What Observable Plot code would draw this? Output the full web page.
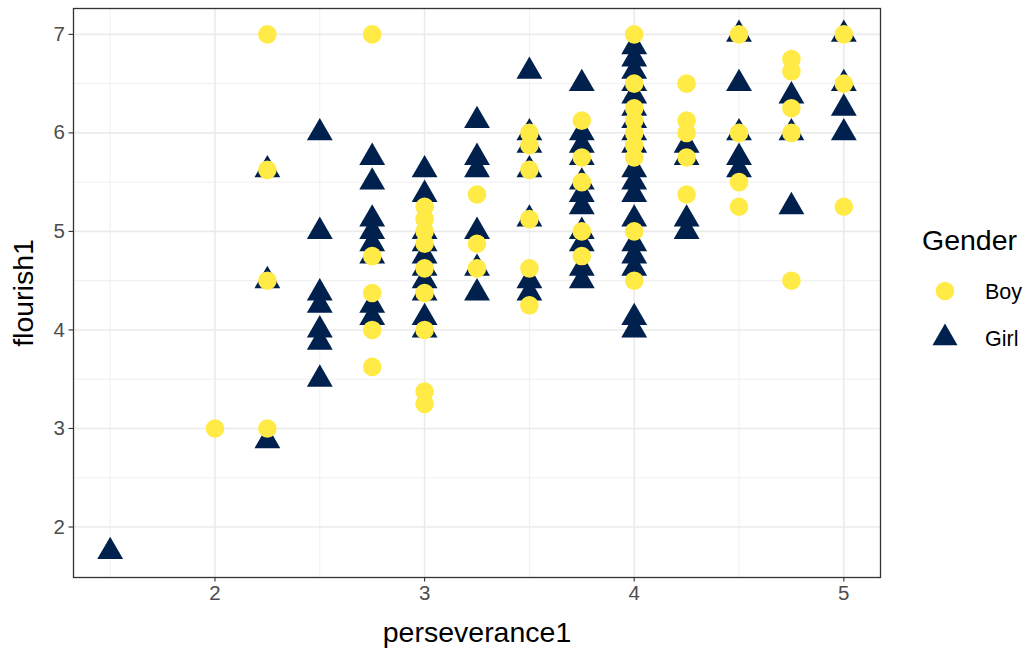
<!DOCTYPE html>
<html>
<head>
<meta charset="utf-8">
<script src="https://cdn.jsdelivr.net/npm/d3@7"></script>
<script src="https://cdn.jsdelivr.net/npm/@observablehq/plot@0.6"></script>
<style>
  html, body { margin: 0; padding: 0; background: #fff; }
  #wrap { position: relative; width: 1027px; height: 649px; font-family: "Liberation Sans", Arial, sans-serif; }
  #legend { position: absolute; left: 900px; top: 200px; }
</style>
</head>
<body>
<div id="wrap"><div id="chart"></div><div id="legend"></div></div>
<script>
// Data
const genders = ["Boy", "Girl"];
const genderColors = ["#FFEA46", "#00204D"];
const xTicks = [2, 3, 4, 5];
const yTicks = [2, 3, 4, 5, 6, 7];
const xTitle = "perseverance1";
const yTitle = "flourish1";
const legendTitle = "Gender";

const boyPerseverance = [2, 2.25, 2.25, 2.25, 2.25,
  2.75, 2.75, 2.75, 2.75, 2.75,
  3, 3, 3, 3, 3, 3, 3, 3, 3,
  3.25, 3.25, 3.25,
  3.5, 3.5, 3.5, 3.5, 3.5, 3.5,
  3.75, 3.75, 3.75, 3.75, 3.75,
  4, 4, 4, 4, 4, 4, 4, 4, 4,
  4.25, 4.25, 4.25, 4.25, 4.25,
  4.5, 4.5, 4.5, 4.5,
  4.75, 4.75, 4.75, 4.75, 4.75,
  5, 5, 5];
const boyFlourish = [3, 7, 5.625, 4.5, 3,
  7, 4.75, 4.375, 4, 3.625,
  5.25, 5.125, 5, 4.875, 4.625, 4.375, 4, 3.375, 3.25,
  5.375, 4.875, 4.625,
  6, 5.875, 5.625, 5.125, 4.625, 4.25,
  6.125, 5.75, 5.5, 5, 4.75,
  7, 6.5, 6.25, 6.125, 6, 5.875, 5.75, 5, 4.5,
  6.5, 6.125, 6, 5.75, 5.375,
  7, 6, 5.5, 5.25,
  6.75, 6.625, 6.25, 6, 4.5,
  7, 6.5, 5.25];

const girlPerseverance = [1.5,
  2.25, 2.25, 2.25,
  2.5, 2.5, 2.5, 2.5, 2.5, 2.5, 2.5,
  2.75, 2.75, 2.75, 2.75, 2.75, 2.75, 2.75, 2.75,
  3, 3, 3, 3, 3, 3, 3, 3, 3, 3,
  3.25, 3.25, 3.25, 3.25, 3.25, 3.25,
  3.5, 3.5, 3.5, 3.5, 3.5, 3.5, 3.5,
  3.75, 3.75, 3.75, 3.75, 3.75, 3.75, 3.75, 3.75, 3.75, 3.75, 3.75,
  4, 4, 4, 4, 4, 4, 4, 4, 4, 4, 4, 4, 4, 4, 4, 4, 4, 4,
  4.25, 4.25, 4.25, 4.25,
  4.5, 4.5, 4.5, 4.5, 4.5,
  4.75, 4.75, 4.75,
  5, 5, 5, 5];
const girlFlourish = [1.75,
  5.625, 4.5, 2.875,
  6, 5, 4.375, 4.25, 4, 3.875, 3.5,
  5.75, 5.5, 5.125, 5, 4.875, 4.75, 4.25, 4.125,
  5.625, 5.375, 5, 4.875, 4.75, 4.625, 4.5, 4.375, 4.125, 4,
  6.125, 5.75, 5.625, 5, 4.625, 4.375,
  6.625, 6, 5.875, 5.625, 5.125, 4.5, 4.375,
  6.5, 6, 5.875, 5.75, 5.5, 5.375, 5.25, 5, 4.875, 4.625, 4.5,
  6.875, 6.75, 6.625, 6.5, 6.375, 6.25, 6.125, 6, 5.875, 5.625, 5.5, 5.375, 5.125, 4.875, 4.75, 4.625, 4.125, 4,
  5.875, 5.75, 5.125, 5,
  7, 6.5, 6, 5.75, 5.625,
  6.375, 6, 5.25,
  7, 6.5, 6.25, 6];

const girls = girlPerseverance.map((x, i) => ({perseverance1: x, flourish1: girlFlourish[i], Gender: "Girl"}));
const boys = boyPerseverance.map((x, i) => ({perseverance1: x, flourish1: boyFlourish[i], Gender: "Boy"}));

const xMajor = [2, 3, 4, 5];
const xMinor = [1.5, 2.5, 3.5, 4.5];
const yMajor = [2, 3, 4, 5, 6, 7];
const yMinor = [2.5, 3.5, 4.5, 5.5, 6.5];

const font = "Liberation Sans, Arial, Helvetica, sans-serif";

const chart = Plot.plot({
  width: 890,
  height: 649,
  marginLeft: 73,
  marginRight: 10,
  marginTop: 8,
  marginBottom: 72,
  style: {fontFamily: font, fontSize: "21px", color: "#4D4D4D", background: "#fff"},
  x: {domain: [1.325, 5.175], label: null},
  y: {domain: [1.4875, 7.2625], label: null},
  color: {domain: genders, range: genderColors},
  symbol: {domain: genders, range: ["circle", "triangle"]},
  marks: [
    Plot.ruleX(xMinor, {stroke: "#EBEBEB", strokeWidth: 0.8}),
    Plot.ruleY(yMinor, {stroke: "#EBEBEB", strokeWidth: 0.8}),
    Plot.ruleX(xMajor, {stroke: "#EBEBEB", strokeWidth: 1.6}),
    Plot.ruleY(yMajor, {stroke: "#EBEBEB", strokeWidth: 1.6}),
    Plot.dot(girls, {x: "perseverance1", y: "flourish1", symbol: "Gender", fill: "Gender", r: 9.6}),
    Plot.dot(boys, {x: "perseverance1", y: "flourish1", symbol: "Gender", fill: "Gender", r: 9.3}),
    Plot.frame({stroke: "#333333", strokeWidth: 1.3}),
    Plot.axisX({ticks: xTicks, tickFormat: d3.format("d"), tickSize: 4.5, tickPadding: 3, stroke: "#333333", strokeWidth: 1.1, fill: "#4D4D4D", fontSize: 20.5, label: null}),
    Plot.axisY({ticks: yTicks, tickFormat: d3.format("d"), tickSize: 4.5, tickPadding: 4, stroke: "#333333", strokeWidth: 1.1, fill: "#4D4D4D", fontSize: 20.5, label: null}),
    Plot.text([xTitle], {frameAnchor: "bottom", lineAnchor: "bottom", dy: 64, fontSize: 28.5, fill: "#000"}),
    Plot.text([yTitle], {frameAnchor: "left", textAnchor: "middle", dx: -50, rotate: -90, fontSize: 28.5, fill: "#000"})
  ]
});
document.getElementById("chart").appendChild(chart);

// Legend (hand-built, same colours/symbols as the scales)
const area = Math.PI * 9.3 * 9.3;
const lg = d3.create("svg").attr("width", 127).attr("height", 170)
  .style("font-family", font);
lg.append("text").attr("x", 22).attr("y", 50).attr("font-size", 28.5).attr("fill", "#000").text(legendTitle);
genders.forEach((g, i) => {
  const cy = 91 + i * 47;
  lg.append("path")
    .attr("transform", `translate(45,${cy})`)
    .attr("d", d3.symbol(i === 0 ? d3.symbolCircle : d3.symbolTriangle, area)())
    .attr("fill", genderColors[i]);
  lg.append("text").attr("x", 85).attr("y", cy).attr("dy", "0.35em")
    .attr("font-size", 21.5).attr("fill", "#000").text(g);
});
document.getElementById("legend").appendChild(lg.node());
</script>
</body>
</html>
